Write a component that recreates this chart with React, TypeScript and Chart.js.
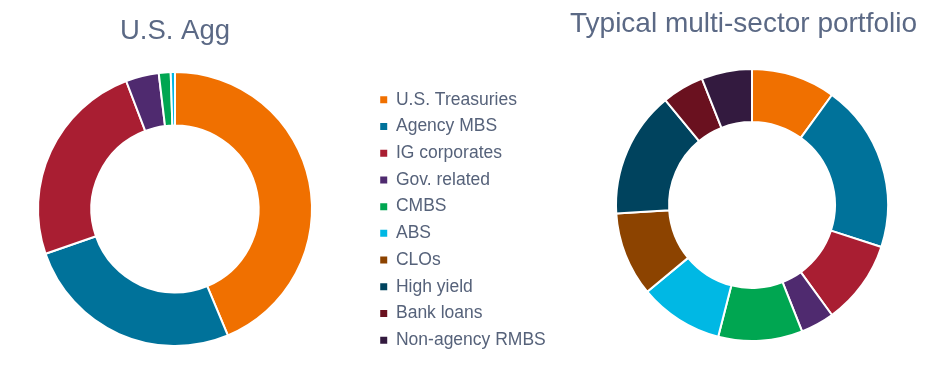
import React, { useEffect, useRef } from "react";
import { Chart, registerables } from "chart.js";

Chart.register(...registerables);

const categories = [
  "U.S. Treasuries",
  "Agency MBS",
  "IG corporates",
  "Gov. related",
  "CMBS",
  "ABS",
  "CLOs",
  "High yield",
  "Bank loans",
  "Non-agency RMBS",
];

const colors = [
  "#F07000",
  "#00729A",
  "#A91E32",
  "#4F2A6F",
  "#00A651",
  "#00B8E4",
  "#8C4300",
  "#00435E",
  "#6A111F",
  "#331A3F",
];

const aggLabels = categories.slice(0, 6);
const aggValues = [43.7, 26, 24.5, 3.9, 1.4, 0.5];

const multiLabels = categories;
const multiValues = [10, 20, 10, 4, 10, 10, 10, 15, 5, 6];

const titleColor = "#5B6985";
const legendColor = "#56627A";
const FONT = "'Liberation Sans', Arial, sans-serif";

function useChart(ref: React.RefObject<HTMLCanvasElement>, make: (c: HTMLCanvasElement) => Chart) {
  useEffect(() => {
    if (!ref.current) return;
    const ch = make(ref.current);
    return () => ch.destroy();
  }, []);
}

export default function App() {
  const leftRef = useRef<HTMLCanvasElement>(null);
  const midRef = useRef<HTMLCanvasElement>(null);
  const rightRef = useRef<HTMLCanvasElement>(null);

  useChart(leftRef as any, (c) =>
    new Chart(c, {
      type: "doughnut",
      data: {
        labels: aggLabels,
        datasets: [
          {
            data: aggValues,
            backgroundColor: colors.slice(0, aggValues.length),
            borderColor: "#ffffff",
            borderWidth: 2,
          },
        ],
      },
      options: {
        responsive: false,
        animation: false,
        cutout: "61%",
        layout: { padding: { bottom: 30 } },
        plugins: {
          legend: { display: false },
          tooltip: { enabled: false },
          title: {
            display: true,
            text: "U.S. Agg",
            color: titleColor,
            font: { family: FONT, size: 27.5, weight: "normal", lineHeight: 1.2 },
            padding: { top: 15, bottom: 23 },
          },
        },
      },
    })
  );

  useChart(midRef as any, (c) =>
    new Chart(c, {
      type: "doughnut",
      data: {
        labels: categories,
        datasets: [
          {
            data: multiValues,
            backgroundColor: colors,
            hidden: true,
          },
        ],
      },
      options: {
        responsive: false,
        animation: false,
        plugins: {
          tooltip: { enabled: false },
          legend: {
            display: true,
            position: "left",
            align: "center",
            maxWidth: 205,
            labels: {
              boxWidth: 7,
              boxHeight: 7,
              padding: 9.22,
              color: legendColor,
              font: { family: FONT, size: 17.5 },
              generateLabels: () =>
                categories.map((t, i) => ({
                  text: t,
                  fillStyle: colors[i],
                  strokeStyle: colors[i],
                  lineWidth: 0,
                  hidden: false,
                  index: i,
                  fontColor: legendColor,
                })),
            },
          },
        },
      },
    })
  );

  useChart(rightRef as any, (c) =>
    new Chart(c, {
      type: "doughnut",
      data: {
        labels: multiLabels,
        datasets: [
          {
            data: multiValues,
            backgroundColor: colors,
            borderColor: "#ffffff",
            borderWidth: 2,
          },
        ],
      },
      options: {
        responsive: false,
        animation: false,
        cutout: "61%",
        layout: { padding: { bottom: 35 } },
        plugins: {
          legend: { display: false },
          tooltip: { enabled: false },
          title: {
            display: true,
            text: "Typical multi-sector portfolio",
            align: "start",
            color: titleColor,
            font: { family: FONT, size: 28, weight: "normal", lineHeight: 1.2 },
            padding: { top: 7.7, bottom: 26.7 },
          },
        },
      },
    })
  );

  return (
    <div
      style={{
        position: "absolute",
        left: 0,
        top: 0,
        width: 942,
        height: 377,
        overflow: "hidden",
        background: "#ffffff",
      }}
    >
      <canvas
        ref={leftRef}
        width={350}
        height={377}
        style={{ position: "absolute", left: 0, top: 0, width: 350, height: 377 }}
      />
      <canvas
        ref={midRef}
        width={205}
        height={314}
        style={{ position: "absolute", left: 371, top: 63, width: 205, height: 314 }}
      />
      <canvas
        ref={rightRef}
        width={364}
        height={377}
        style={{ position: "absolute", left: 570, top: 0, width: 364, height: 377 }}
      />
    </div>
  );
}
